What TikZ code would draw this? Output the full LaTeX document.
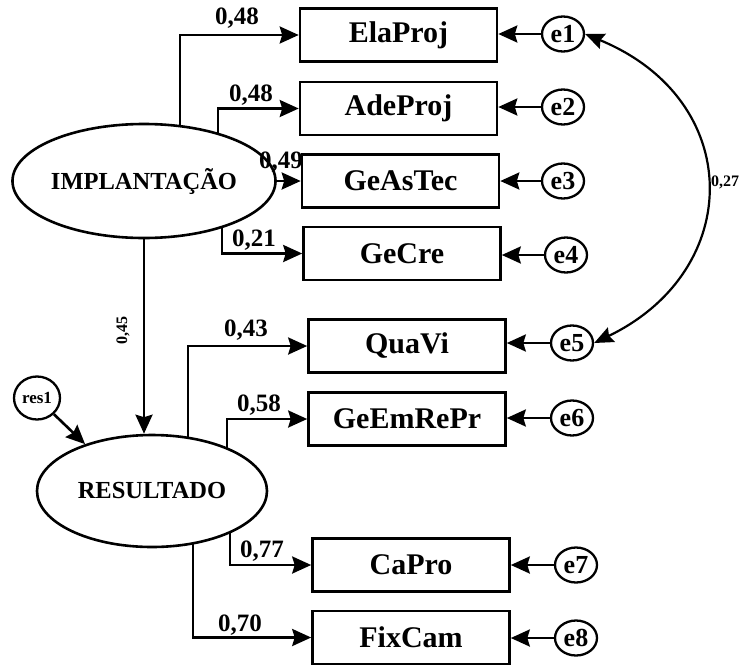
\documentclass[tikz,border=0pt]{standalone}
\usepackage{fontspec}
\setmainfont{Liberation Serif}
\usetikzlibrary{arrows.meta,shapes.geometric,backgrounds}
\begin{document}
\begin{tikzpicture}[x=1pt,y=-1pt,
  box/.style={draw,line width=2.6pt,minimum width=197pt,minimum height=53pt,inner sep=0pt,font=\fontsize{30}{31}\selectfont\bfseries},
  lat/.style={ellipse,draw,fill=white,line width=2.6pt,inner sep=0pt,font=\fontsize{24.5}{26}\selectfont\bfseries},
  err/.style={ellipse,draw,fill=white,line width=2.3pt,minimum width=42pt,minimum height=35pt,inner sep=0pt,font=\fontsize{26}{27}\selectfont\bfseries},
  coef/.style={font=\fontsize{25}{26}\selectfont\bfseries,inner sep=0pt},
  small/.style={font=\fontsize{16}{17}\selectfont\bfseries,inner sep=0pt},
  arr/.style={line width=2.6pt,-{Stealth[length=19pt,width=17pt,inset=2.5pt]}},
  darr/.style={line width=2.2pt,{Stealth[length=19pt,width=16pt,inset=2.5pt]}-{Stealth[length=19pt,width=16pt,inset=2.5pt]}},
]
\useasboundingbox (0,0) rectangle (741,664);

% latent variables
\node[lat,minimum width=232pt,minimum height=114pt] (impl) at (144,181) {IMPLANTAÇÃO};
\node[lat,minimum width=230pt,minimum height=112pt] (res) at (152,491) {RESULTADO};
\node[err,minimum width=46pt,minimum height=43pt,font=\fontsize{17}{18}\selectfont\bfseries] (res1) at (37,398) {res1};

% observed variables
\node[box] (elaproj) at (398.5,35) {ElaProj};
\node[box] (adeproj) at (398.5,108.5) {AdeProj};
\node[box] (geastec) at (400.5,181) {GeAsTec};
\node[box] (gecre) at (402,253.5) {GeCre};
\node[box] (quavi) at (407,346) {QuaVi};
\node[box] (geem) at (407,419) {GeEmRePr};
\node[box] (capro) at (411,565) {CaPro};
\node[box] (fixcam) at (411,637.5) {FixCam};

% errors
\node[err] (e1) at (563,34) {e1};
\node[err] (e2) at (563,107) {e2};
\node[err] (e3) at (563,181) {e3};
\node[err] (e4) at (566,255) {e4};
\node[err] (e5) at (572,343) {e5};
\node[err] (e6) at (572,418) {e6};
\node[err] (e7) at (576,565) {e7};
\node[err] (e8) at (576,638) {e8};

\begin{scope}[on background layer]
\draw[arr] ([xshift=36pt]impl.center) |- (elaproj.west);
\draw[arr] ([xshift=74pt]impl.center) |- (adeproj.west);
\draw[arr] (impl.center) -- (geastec.west);
\draw[arr] ([xshift=78pt]impl.center) |- (gecre.west);
\draw[arr] (impl.center) -- (impl.center |- res.north);
\draw[arr] ([xshift=36pt]res.center) |- (quavi.west);
\draw[arr] ([xshift=75pt]res.center) |- (geem.west);
\draw[arr] ([xshift=78pt]res.center) |- (capro.west);
\draw[arr] ([xshift=41pt]res.center) |- (fixcam.west);
\draw[arr] (res1) -- (res.145);
\end{scope}

\foreach \e/\b in {e1/elaproj,e2/adeproj,e3/geastec,e4/gecre,e5/quavi,e6/geem,e7/capro,e8/fixcam}
  \draw[arr] (\e.west) -- (\e.west -| \b.east);

\draw[darr] (e1.east) .. controls (745,100) and (745,270) .. (e5.east);

% coefficients
\node[coef] (c1) at (237,18) {0,48};
\node[coef] (c2) at (251,95) {0,48};
\node[coef] (c3) at (281,162) {0,49};
\node[coef] (c4) at (254,240) {0,21};
\node[coef] (c5) at (246,330) {0,43};
\node[coef] (c6) at (259,405) {0,58};
\node[coef] (c7) at (262,551) {0,77};
\node[coef] (c8) at (240,625) {0,70};
\node[small] (c9) at (725,182) {0,27};
\node[small,rotate=90] (c10) at (123,330) {0,45};
\end{tikzpicture}
\end{document}
